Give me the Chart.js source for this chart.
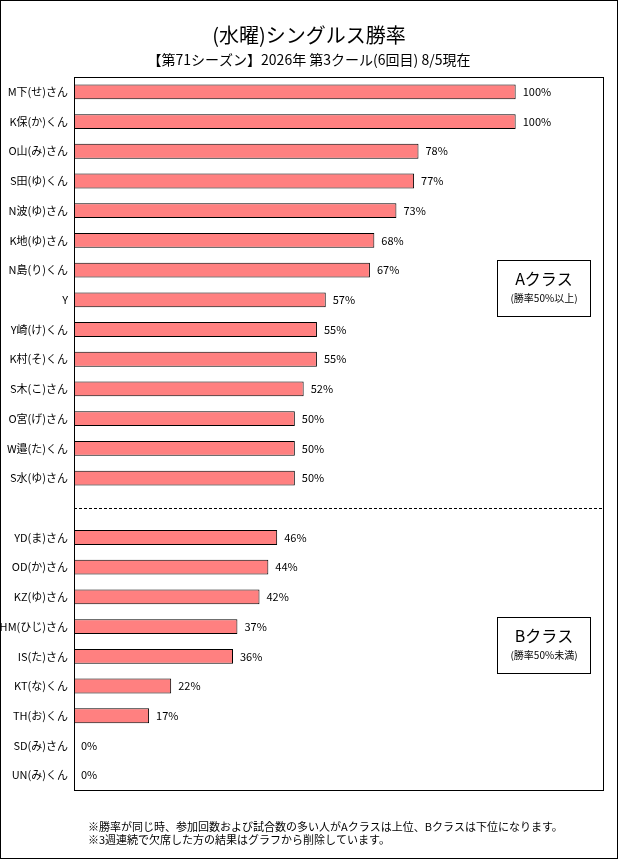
<!DOCTYPE html>
<html>
<head>
<meta charset="utf-8">
<script src="https://cdn.jsdelivr.net/npm/chart.js@4"></script>
<style>
  body { margin: 0; background: #fff; }
  canvas { display: block; }
</style>
</head>
<body>
<canvas id="grafico" width="618" height="859"></canvas>
<script>
document.addEventListener('DOMContentLoaded', () => {
  const FONT = '"Noto Sans CJK JP", sans-serif';

  // A class / (gap) / B class
  const jogadores = [
    ['M下(せ)さん', 100], ['K保(か)くん', 100], ['O山(み)さん', 78], ['S田(ゆ)くん', 77],
    ['N波(ゆ)さん', 73], ['K地(ゆ)さん', 68], ['N島(り)くん', 67], ['Y', 57],
    ['Y崎(け)くん', 55], ['K村(そ)くん', 55], ['S木(こ)さん', 52], ['O宮(げ)さん', 50],
    ['W邉(た)くん', 50], ['S水(ゆ)さん', 50],
    ['', null],
    ['YD(ま)さん', 46], ['OD(か)さん', 44], ['KZ(ゆ)さん', 42], ['HM(ひじ)さん', 37],
    ['IS(た)さん', 36], ['KT(な)くん', 22], ['TH(お)くん', 17], ['SD(み)さん', 0], ['UN(み)くん', 0]
  ];

  const extras = {
    id: 'extras',
    afterDraw(chart) {
      const ctx = chart.ctx;
      const a = chart.chartArea;
      const x = chart.scales.x, y = chart.scales.y;
      ctx.save();
      // outer border
      ctx.strokeStyle = '#000';
      ctx.lineWidth = 1;
      ctx.strokeRect(0.5, 0.5, 617, 858);
      // plot border
      ctx.strokeRect(a.left + 0.5, a.top + 0.5, a.right - a.left - 1, a.bottom - a.top);
      // divider
      const yGap = y.getPixelForValue(14);
      ctx.setLineDash([3, 2]);
      ctx.beginPath();
      ctx.moveTo(a.left, Math.round(yGap) + 0.5);
      ctx.lineTo(a.right, Math.round(yGap) + 0.5);
      ctx.stroke();
      ctx.setLineDash([]);
      // value labels
      ctx.fillStyle = '#000';
      ctx.font = '11px ' + FONT;
      ctx.textBaseline = 'middle';
      ctx.textAlign = 'left';
      jogadores.forEach(([nome, v], i) => {
        if (v === null) return;
        ctx.fillText(v + '%', x.getPixelForValue(v) + 7, y.getPixelForValue(i));
      });
      // titles
      ctx.textAlign = 'center';
      ctx.font = '20px ' + FONT;
      ctx.fillText('(水曜)シングルス勝率', 309, 35);
      ctx.font = '14px ' + FONT;
      ctx.fillText('【第71シーズン】2026年 第3クール(6回目) 8/5現在', 309, 60);
      // class boxes
      [['Aクラス', '(勝率50%以上)', 260], ['Bクラス', '(勝率50%未満)', 617]].forEach(([t, s, top]) => {
        ctx.strokeRect(497.5, top + 0.5, 93, 56);
        ctx.font = '16px ' + FONT;
        ctx.fillText(t, 544, top + 19);
        ctx.font = '10px ' + FONT;
        ctx.fillText(s, 544, top + 38);
      });
      // footnotes
      ctx.textAlign = 'left';
      ctx.font = '11px ' + FONT;
      ctx.fillText('※勝率が同じ時、参加回数および試合数の多い人がAクラスは上位、Bクラスは下位になります。', 88, 827);
      ctx.fillText('※3週連続で欠席した方の結果はグラフから削除しています。', 88, 840);
      ctx.restore();
    }
  };

  new Chart(document.getElementById('grafico').getContext('2d'), {
    type: 'bar',
    data: {
      labels: jogadores.map(j => j[0]),
      datasets: [{
        label: '勝率',
        data: jogadores.map(j => j[1]),
        backgroundColor: '#ff8080',
        borderColor: '#000',
        borderWidth: 1,
        borderSkipped: false,
        barPercentage: 0.5,
        categoryPercentage: 1
      }]
    },
    options: {
      indexAxis: 'y',
      responsive: false,
      animation: false,
      layout: { padding: { top: 77, bottom: 69, right: 14, left: 0 } },
      plugins: { legend: { display: false }, tooltip: { enabled: false } },
      scales: {
        x: {
          min: 0, max: 120,
          display: false,
          grid: { display: false }
        },
        y: {
          grid: { display: false, drawTicks: false },
          border: { display: false },
          afterFit: s => { s.width = 74; },
          ticks: {
            color: '#000',
            padding: 6,
            autoSkip: false,
            font: { family: FONT, size: 11 }
          }
        }
      }
    },
    plugins: [extras]
  });
});
</script>
</body>
</html>
